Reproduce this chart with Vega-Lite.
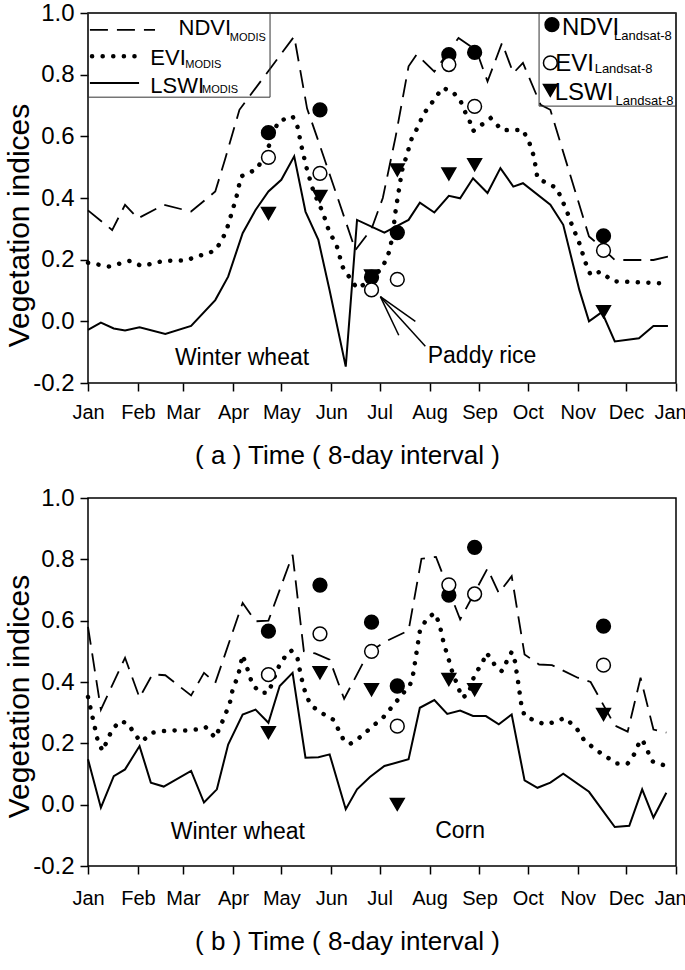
{
  "$schema": "https://vega.github.io/schema/vega-lite/v6.json",
  "background": "white",
  "padding": {"left": 3, "top": 0, "right": 0, "bottom": 0},
  "bounds": "flush",
  "spacing": 115,
  "config": {
    "font": "Liberation Sans",
    "view": {"stroke": "#000", "strokeWidth": 1.5},
    "axis": {"grid": false, "domain": false, "tickColor": "#000", "tickWidth": 1.5, "tickSize": 8, "labelColor": "#000", "titleColor": "#000", "titleFontWeight": "normal"},
    "axisX": {"labelFontSize": 20, "titleFontSize": 26, "titlePadding": 20, "titleX": 259, "labelFlush": false, "labelOverlap": false},
    "axisY": {"labelFontSize": 24, "labelPadding": 6, "titleFontSize": 30, "titleX": -54}
  },
  "datasets": {
    "bandA": [{"doy": 162, "doy2": 278}],
    "bandB": [{"doy": 167, "doy2": 272.5}],
    "modisA": [
      {"index": "NDVI", "doy": 1, "v": 0.36}, {"index": "NDVI", "doy": 16, "v": 0.296}, {"index": "NDVI", "doy": 24, "v": 0.378}, {"index": "NDVI", "doy": 32, "v": 0.334}, {"index": "NDVI", "doy": 48, "v": 0.378}, {"index": "NDVI", "doy": 65, "v": 0.356}, {"index": "NDVI", "doy": 80, "v": 0.421}, {"index": "NDVI", "doy": 86, "v": 0.524}, {"index": "NDVI", "doy": 95, "v": 0.686}, {"index": "NDVI", "doy": 129, "v": 0.924}, {"index": "NDVI", "doy": 137, "v": 0.69}, {"index": "NDVI", "doy": 143, "v": 0.6}, {"index": "NDVI", "doy": 167, "v": 0.231}, {"index": "NDVI", "doy": 177, "v": 0.3}, {"index": "NDVI", "doy": 184, "v": 0.4}, {"index": "NDVI", "doy": 192, "v": 0.6}, {"index": "NDVI", "doy": 200, "v": 0.827}, {"index": "NDVI", "doy": 205, "v": 0.865}, {"index": "NDVI", "doy": 216, "v": 0.81}, {"index": "NDVI", "doy": 231, "v": 0.919}, {"index": "NDVI", "doy": 242, "v": 0.88}, {"index": "NDVI", "doy": 249, "v": 0.778}, {"index": "NDVI", "doy": 258, "v": 0.903}, {"index": "NDVI", "doy": 265, "v": 0.805}, {"index": "NDVI", "doy": 271, "v": 0.838}, {"index": "NDVI", "doy": 282, "v": 0.702}, {"index": "NDVI", "doy": 288, "v": 0.686}, {"index": "NDVI", "doy": 312, "v": 0.275}, {"index": "NDVI", "doy": 317, "v": 0.253}, {"index": "NDVI", "doy": 328, "v": 0.199}, {"index": "NDVI", "doy": 352, "v": 0.199}, {"index": "NDVI", "doy": 361, "v": 0.21},
      {"index": "EVI", "doy": 1, "v": 0.19}, {"index": "EVI", "doy": 14, "v": 0.178}, {"index": "EVI", "doy": 27, "v": 0.196}, {"index": "EVI", "doy": 34, "v": 0.18}, {"index": "EVI", "doy": 41, "v": 0.187}, {"index": "EVI", "doy": 47, "v": 0.195}, {"index": "EVI", "doy": 54, "v": 0.197}, {"index": "EVI", "doy": 62, "v": 0.197}, {"index": "EVI", "doy": 68, "v": 0.21}, {"index": "EVI", "doy": 74, "v": 0.218}, {"index": "EVI", "doy": 80, "v": 0.23}, {"index": "EVI", "doy": 84, "v": 0.262}, {"index": "EVI", "doy": 87, "v": 0.296}, {"index": "EVI", "doy": 93, "v": 0.4}, {"index": "EVI", "doy": 96, "v": 0.47}, {"index": "EVI", "doy": 106, "v": 0.494}, {"index": "EVI", "doy": 113, "v": 0.565}, {"index": "EVI", "doy": 119, "v": 0.648}, {"index": "EVI", "doy": 128, "v": 0.665}, {"index": "EVI", "doy": 131, "v": 0.632}, {"index": "EVI", "doy": 134, "v": 0.556}, {"index": "EVI", "doy": 137, "v": 0.491}, {"index": "EVI", "doy": 141, "v": 0.421}, {"index": "EVI", "doy": 147, "v": 0.35}, {"index": "EVI", "doy": 151, "v": 0.286}, {"index": "EVI", "doy": 155, "v": 0.253}, {"index": "EVI", "doy": 159, "v": 0.177}, {"index": "EVI", "doy": 163, "v": 0.145}, {"index": "EVI", "doy": 168, "v": 0.107}, {"index": "EVI", "doy": 176, "v": 0.13}, {"index": "EVI", "doy": 184, "v": 0.177}, {"index": "EVI", "doy": 188, "v": 0.226}, {"index": "EVI", "doy": 190, "v": 0.275}, {"index": "EVI", "doy": 192, "v": 0.361}, {"index": "EVI", "doy": 196, "v": 0.491}, {"index": "EVI", "doy": 198, "v": 0.524}, {"index": "EVI", "doy": 202, "v": 0.594}, {"index": "EVI", "doy": 206, "v": 0.632}, {"index": "EVI", "doy": 209, "v": 0.67}, {"index": "EVI", "doy": 215, "v": 0.713}, {"index": "EVI", "doy": 221, "v": 0.757}, {"index": "EVI", "doy": 227, "v": 0.746}, {"index": "EVI", "doy": 232, "v": 0.718}, {"index": "EVI", "doy": 235, "v": 0.68}, {"index": "EVI", "doy": 238, "v": 0.648}, {"index": "EVI", "doy": 240, "v": 0.617}, {"index": "EVI", "doy": 251, "v": 0.659}, {"index": "EVI", "doy": 258, "v": 0.62}, {"index": "EVI", "doy": 271, "v": 0.621}, {"index": "EVI", "doy": 276, "v": 0.567}, {"index": "EVI", "doy": 278, "v": 0.529}, {"index": "EVI", "doy": 280, "v": 0.464}, {"index": "EVI", "doy": 292, "v": 0.432}, {"index": "EVI", "doy": 298, "v": 0.361}, {"index": "EVI", "doy": 301, "v": 0.318}, {"index": "EVI", "doy": 306, "v": 0.253}, {"index": "EVI", "doy": 310, "v": 0.188}, {"index": "EVI", "doy": 313, "v": 0.15}, {"index": "EVI", "doy": 319, "v": 0.161}, {"index": "EVI", "doy": 327, "v": 0.13}, {"index": "EVI", "doy": 358, "v": 0.123},
      {"index": "LSWI", "doy": 1, "v": -0.028}, {"index": "LSWI", "doy": 9, "v": -0.004}, {"index": "LSWI", "doy": 17, "v": -0.023}, {"index": "LSWI", "doy": 24, "v": -0.03}, {"index": "LSWI", "doy": 33, "v": -0.019}, {"index": "LSWI", "doy": 49, "v": -0.041}, {"index": "LSWI", "doy": 65, "v": -0.015}, {"index": "LSWI", "doy": 80, "v": 0.069}, {"index": "LSWI", "doy": 88, "v": 0.145}, {"index": "LSWI", "doy": 97, "v": 0.286}, {"index": "LSWI", "doy": 105, "v": 0.361}, {"index": "LSWI", "doy": 113, "v": 0.421}, {"index": "LSWI", "doy": 121, "v": 0.459}, {"index": "LSWI", "doy": 129, "v": 0.535}, {"index": "LSWI", "doy": 136, "v": 0.356}, {"index": "LSWI", "doy": 144, "v": 0.264}, {"index": "LSWI", "doy": 151, "v": 0.1}, {"index": "LSWI", "doy": 161, "v": -0.147}, {"index": "LSWI", "doy": 168, "v": 0.329}, {"index": "LSWI", "doy": 185, "v": 0.288}, {"index": "LSWI", "doy": 192, "v": 0.307}, {"index": "LSWI", "doy": 200, "v": 0.329}, {"index": "LSWI", "doy": 207, "v": 0.385}, {"index": "LSWI", "doy": 216, "v": 0.353}, {"index": "LSWI", "doy": 225, "v": 0.407}, {"index": "LSWI", "doy": 232, "v": 0.399}, {"index": "LSWI", "doy": 240, "v": 0.464}, {"index": "LSWI", "doy": 249, "v": 0.416}, {"index": "LSWI", "doy": 257, "v": 0.497}, {"index": "LSWI", "doy": 265, "v": 0.437}, {"index": "LSWI", "doy": 271, "v": 0.448}, {"index": "LSWI", "doy": 288, "v": 0.378}, {"index": "LSWI", "doy": 296, "v": 0.313}, {"index": "LSWI", "doy": 306, "v": 0.102}, {"index": "LSWI", "doy": 312, "v": 0.0}, {"index": "LSWI", "doy": 320, "v": 0.03}, {"index": "LSWI", "doy": 328, "v": -0.065}, {"index": "LSWI", "doy": 343, "v": -0.055}, {"index": "LSWI", "doy": 352, "v": -0.015}, {"index": "LSWI", "doy": 361, "v": -0.015}
    ],
    "landsatA": [
      {"index": "NDVI", "doy": 113, "v": 0.612}, {"index": "NDVI", "doy": 145, "v": 0.686}, {"index": "NDVI", "doy": 177, "v": 0.143}, {"index": "NDVI", "doy": 193, "v": 0.288}, {"index": "NDVI", "doy": 225, "v": 0.865}, {"index": "NDVI", "doy": 241, "v": 0.872}, {"index": "NDVI", "doy": 321, "v": 0.277},
      {"index": "EVI", "doy": 113, "v": 0.532}, {"index": "EVI", "doy": 145, "v": 0.48}, {"index": "EVI", "doy": 177, "v": 0.102}, {"index": "EVI", "doy": 193, "v": 0.136}, {"index": "EVI", "doy": 225, "v": 0.833}, {"index": "EVI", "doy": 241, "v": 0.697}, {"index": "EVI", "doy": 321, "v": 0.23},
      {"index": "LSWI", "doy": 113, "v": 0.35}, {"index": "LSWI", "doy": 145, "v": 0.405}, {"index": "LSWI", "doy": 177, "v": 0.147}, {"index": "LSWI", "doy": 193, "v": 0.491}, {"index": "LSWI", "doy": 225, "v": 0.478}, {"index": "LSWI", "doy": 241, "v": 0.508}, {"index": "LSWI", "doy": 321, "v": 0.031}
    ],
    "modisB": [
      {"index": "NDVI", "doy": 1, "v": 0.58}, {"index": "NDVI", "doy": 9, "v": 0.31}, {"index": "NDVI", "doy": 24, "v": 0.479}, {"index": "NDVI", "doy": 33, "v": 0.349}, {"index": "NDVI", "doy": 41, "v": 0.425}, {"index": "NDVI", "doy": 49, "v": 0.422}, {"index": "NDVI", "doy": 65, "v": 0.356}, {"index": "NDVI", "doy": 73, "v": 0.43}, {"index": "NDVI", "doy": 80, "v": 0.397}, {"index": "NDVI", "doy": 97, "v": 0.658}, {"index": "NDVI", "doy": 105, "v": 0.598}, {"index": "NDVI", "doy": 113, "v": 0.6}, {"index": "NDVI", "doy": 128, "v": 0.815}, {"index": "NDVI", "doy": 135, "v": 0.5}, {"index": "NDVI", "doy": 142, "v": 0.493}, {"index": "NDVI", "doy": 151, "v": 0.473}, {"index": "NDVI", "doy": 160, "v": 0.345}, {"index": "NDVI", "doy": 168, "v": 0.425}, {"index": "NDVI", "doy": 175, "v": 0.495}, {"index": "NDVI", "doy": 186, "v": 0.533}, {"index": "NDVI", "doy": 200, "v": 0.568}, {"index": "NDVI", "doy": 208, "v": 0.802}, {"index": "NDVI", "doy": 217, "v": 0.808}, {"index": "NDVI", "doy": 232, "v": 0.604}, {"index": "NDVI", "doy": 249, "v": 0.77}, {"index": "NDVI", "doy": 256, "v": 0.69}, {"index": "NDVI", "doy": 264, "v": 0.745}, {"index": "NDVI", "doy": 272, "v": 0.49}, {"index": "NDVI", "doy": 281, "v": 0.457}, {"index": "NDVI", "doy": 289, "v": 0.455}, {"index": "NDVI", "doy": 305, "v": 0.414}, {"index": "NDVI", "doy": 313, "v": 0.4}, {"index": "NDVI", "doy": 328, "v": 0.258}, {"index": "NDVI", "doy": 336, "v": 0.238}, {"index": "NDVI", "doy": 344, "v": 0.414}, {"index": "NDVI", "doy": 352, "v": 0.245}, {"index": "NDVI", "doy": 360, "v": 0.235},
      {"index": "EVI", "doy": 1, "v": 0.351}, {"index": "EVI", "doy": 4, "v": 0.281}, {"index": "EVI", "doy": 7, "v": 0.21}, {"index": "EVI", "doy": 10, "v": 0.175}, {"index": "EVI", "doy": 13, "v": 0.21}, {"index": "EVI", "doy": 16, "v": 0.245}, {"index": "EVI", "doy": 21, "v": 0.273}, {"index": "EVI", "doy": 26, "v": 0.264}, {"index": "EVI", "doy": 30, "v": 0.229}, {"index": "EVI", "doy": 34, "v": 0.205}, {"index": "EVI", "doy": 41, "v": 0.235}, {"index": "EVI", "doy": 48, "v": 0.24}, {"index": "EVI", "doy": 55, "v": 0.242}, {"index": "EVI", "doy": 62, "v": 0.242}, {"index": "EVI", "doy": 68, "v": 0.245}, {"index": "EVI", "doy": 74, "v": 0.253}, {"index": "EVI", "doy": 80, "v": 0.218}, {"index": "EVI", "doy": 85, "v": 0.278}, {"index": "EVI", "doy": 89, "v": 0.33}, {"index": "EVI", "doy": 91, "v": 0.381}, {"index": "EVI", "doy": 94, "v": 0.416}, {"index": "EVI", "doy": 97, "v": 0.488}, {"index": "EVI", "doy": 101, "v": 0.427}, {"index": "EVI", "doy": 103, "v": 0.392}, {"index": "EVI", "doy": 108, "v": 0.365}, {"index": "EVI", "doy": 113, "v": 0.365}, {"index": "EVI", "doy": 118, "v": 0.433}, {"index": "EVI", "doy": 121, "v": 0.468}, {"index": "EVI", "doy": 127, "v": 0.503}, {"index": "EVI", "doy": 131, "v": 0.479}, {"index": "EVI", "doy": 133, "v": 0.424}, {"index": "EVI", "doy": 135, "v": 0.381}, {"index": "EVI", "doy": 137, "v": 0.349}, {"index": "EVI", "doy": 140, "v": 0.321}, {"index": "EVI", "doy": 147, "v": 0.296}, {"index": "EVI", "doy": 153, "v": 0.278}, {"index": "EVI", "doy": 157, "v": 0.24}, {"index": "EVI", "doy": 160, "v": 0.207}, {"index": "EVI", "doy": 164, "v": 0.199}, {"index": "EVI", "doy": 171, "v": 0.224}, {"index": "EVI", "doy": 177, "v": 0.253}, {"index": "EVI", "doy": 184, "v": 0.283}, {"index": "EVI", "doy": 190, "v": 0.321}, {"index": "EVI", "doy": 196, "v": 0.359}, {"index": "EVI", "doy": 201, "v": 0.392}, {"index": "EVI", "doy": 203, "v": 0.43}, {"index": "EVI", "doy": 206, "v": 0.533}, {"index": "EVI", "doy": 207, "v": 0.566}, {"index": "EVI", "doy": 211, "v": 0.604}, {"index": "EVI", "doy": 216, "v": 0.625}, {"index": "EVI", "doy": 219, "v": 0.593}, {"index": "EVI", "doy": 222, "v": 0.522}, {"index": "EVI", "doy": 224, "v": 0.49}, {"index": "EVI", "doy": 227, "v": 0.435}, {"index": "EVI", "doy": 231, "v": 0.381}, {"index": "EVI", "doy": 233, "v": 0.349}, {"index": "EVI", "doy": 237, "v": 0.359}, {"index": "EVI", "doy": 241, "v": 0.424}, {"index": "EVI", "doy": 246, "v": 0.463}, {"index": "EVI", "doy": 248, "v": 0.495}, {"index": "EVI", "doy": 251, "v": 0.479}, {"index": "EVI", "doy": 254, "v": 0.45}, {"index": "EVI", "doy": 258, "v": 0.435}, {"index": "EVI", "doy": 261, "v": 0.468}, {"index": "EVI", "doy": 264, "v": 0.498}, {"index": "EVI", "doy": 266, "v": 0.468}, {"index": "EVI", "doy": 268, "v": 0.4}, {"index": "EVI", "doy": 270, "v": 0.326}, {"index": "EVI", "doy": 272, "v": 0.289}, {"index": "EVI", "doy": 280, "v": 0.27}, {"index": "EVI", "doy": 285, "v": 0.262}, {"index": "EVI", "doy": 291, "v": 0.27}, {"index": "EVI", "doy": 297, "v": 0.283}, {"index": "EVI", "doy": 304, "v": 0.251}, {"index": "EVI", "doy": 309, "v": 0.21}, {"index": "EVI", "doy": 316, "v": 0.18}, {"index": "EVI", "doy": 322, "v": 0.159}, {"index": "EVI", "doy": 329, "v": 0.134}, {"index": "EVI", "doy": 336, "v": 0.134}, {"index": "EVI", "doy": 340, "v": 0.164}, {"index": "EVI", "doy": 343, "v": 0.2}, {"index": "EVI", "doy": 345, "v": 0.213}, {"index": "EVI", "doy": 348, "v": 0.18}, {"index": "EVI", "doy": 351, "v": 0.142}, {"index": "EVI", "doy": 357, "v": 0.131}, {"index": "EVI", "doy": 361, "v": 0.125},
      {"index": "LSWI", "doy": 1, "v": 0.148}, {"index": "LSWI", "doy": 9, "v": -0.01}, {"index": "LSWI", "doy": 17, "v": 0.093}, {"index": "LSWI", "doy": 24, "v": 0.115}, {"index": "LSWI", "doy": 33, "v": 0.191}, {"index": "LSWI", "doy": 40, "v": 0.072}, {"index": "LSWI", "doy": 48, "v": 0.059}, {"index": "LSWI", "doy": 65, "v": 0.11}, {"index": "LSWI", "doy": 73, "v": 0.007}, {"index": "LSWI", "doy": 81, "v": 0.05}, {"index": "LSWI", "doy": 88, "v": 0.196}, {"index": "LSWI", "doy": 97, "v": 0.294}, {"index": "LSWI", "doy": 105, "v": 0.31}, {"index": "LSWI", "doy": 113, "v": 0.267}, {"index": "LSWI", "doy": 120, "v": 0.387}, {"index": "LSWI", "doy": 128, "v": 0.43}, {"index": "LSWI", "doy": 136, "v": 0.153}, {"index": "LSWI", "doy": 144, "v": 0.155}, {"index": "LSWI", "doy": 151, "v": 0.164}, {"index": "LSWI", "doy": 161, "v": -0.015}, {"index": "LSWI", "doy": 168, "v": 0.05}, {"index": "LSWI", "doy": 176, "v": 0.09}, {"index": "LSWI", "doy": 185, "v": 0.126}, {"index": "LSWI", "doy": 200, "v": 0.148}, {"index": "LSWI", "doy": 207, "v": 0.316}, {"index": "LSWI", "doy": 216, "v": 0.341}, {"index": "LSWI", "doy": 224, "v": 0.296}, {"index": "LSWI", "doy": 232, "v": 0.307}, {"index": "LSWI", "doy": 240, "v": 0.289}, {"index": "LSWI", "doy": 248, "v": 0.289}, {"index": "LSWI", "doy": 256, "v": 0.262}, {"index": "LSWI", "doy": 264, "v": 0.294}, {"index": "LSWI", "doy": 272, "v": 0.079}, {"index": "LSWI", "doy": 280, "v": 0.055}, {"index": "LSWI", "doy": 288, "v": 0.072}, {"index": "LSWI", "doy": 296, "v": 0.101}, {"index": "LSWI", "doy": 312, "v": 0.042}, {"index": "LSWI", "doy": 328, "v": -0.073}, {"index": "LSWI", "doy": 337, "v": -0.069}, {"index": "LSWI", "doy": 345, "v": 0.05}, {"index": "LSWI", "doy": 352, "v": -0.042}, {"index": "LSWI", "doy": 360, "v": 0.039}
    ],
    "landsatB": [
      {"index": "NDVI", "doy": 113, "v": 0.566}, {"index": "NDVI", "doy": 145, "v": 0.716}, {"index": "NDVI", "doy": 177, "v": 0.595}, {"index": "NDVI", "doy": 193, "v": 0.387}, {"index": "NDVI", "doy": 225, "v": 0.683}, {"index": "NDVI", "doy": 241, "v": 0.839}, {"index": "NDVI", "doy": 321, "v": 0.582},
      {"index": "EVI", "doy": 113, "v": 0.424}, {"index": "EVI", "doy": 145, "v": 0.557}, {"index": "EVI", "doy": 177, "v": 0.5}, {"index": "EVI", "doy": 193, "v": 0.256}, {"index": "EVI", "doy": 225, "v": 0.717}, {"index": "EVI", "doy": 241, "v": 0.687}, {"index": "EVI", "doy": 321, "v": 0.455},
      {"index": "LSWI", "doy": 113, "v": 0.235}, {"index": "LSWI", "doy": 145, "v": 0.43}, {"index": "LSWI", "doy": 177, "v": 0.375}, {"index": "LSWI", "doy": 193, "v": 0.001}, {"index": "LSWI", "doy": 225, "v": 0.408}, {"index": "LSWI", "doy": 241, "v": 0.375}, {"index": "LSWI", "doy": 321, "v": 0.294}
    ],
    "annotA": [{"doy": 96.6, "v": -0.12, "label": "Winter wheat"}, {"doy": 245.6, "v": -0.114, "label": "Paddy rice"}],
    "annotB": [{"doy": 94, "v": -0.088, "label": "Winter wheat"}, {"doy": 232, "v": -0.085, "label": "Corn"}],
    "arrowA": [{"doy": 182.5, "v": 0.08, "doy2": 204.2, "v2": 0.0}, {"doy": 182.5, "v": 0.08, "doy2": 193.9, "v2": -0.045}, {"doy": 182.5, "v": 0.08, "doy2": 210.4, "v2": -0.081}],
    "legBoxA": [{"doy": 1, "doy2": 114, "v": 1.0, "v2": 0.727}, {"doy": 281, "doy2": 366, "v": 1.0, "v2": 0.698}],
    "legLineA": [{"index": "NDVI", "doy": 2.2, "doy2": 42.6, "v": 0.945}, {"index": "EVI", "doy": 3.5, "doy2": 31.4, "v": 0.86}, {"index": "LSWI", "doy": 2.2, "doy2": 32.7, "v": 0.773}],
    "legLeftMain": [{"doy": 57.2, "v": 0.929, "label": "NDVI"}, {"doy": 39.7, "v": 0.832, "label": "EVI"}, {"doy": 39.7, "v": 0.742, "label": "LSWI"}],
    "legLeftSub": [{"doy": 89, "v": 0.908, "label": "MODIS"}, {"doy": 61.4, "v": 0.821, "label": "MODIS"}, {"doy": 71.8, "v": 0.739, "label": "MODIS"}],
    "legRightMain": [{"doy": 295.2, "v": 0.93, "label": "NDVI"}, {"doy": 291, "v": 0.811, "label": "EVI"}, {"doy": 290.7, "v": 0.719, "label": "LSWI"}],
    "legRightSub": [{"doy": 327.5, "v": 0.911, "label": "Landsat-8"}, {"doy": 315.5, "v": 0.805, "label": "Landsat-8"}, {"doy": 328.5, "v": 0.702, "label": "Landsat-8"}],
    "legRightMark": [{"index": "NDVI", "doy": 289, "v": 0.962}, {"index": "EVI", "doy": 288, "v": 0.838}, {"index": "LSWI", "doy": 288, "v": 0.749}]
  },
  "vconcat": [
    {
      "width": 588,
      "height": 370,
      "encoding": {
        "x": {"field": "doy", "type": "quantitative", "scale": {"domain": [1, 366], "nice": false, "zero": false},
          "axis": {"values": [1, 32, 60, 91, 121, 152, 182, 213, 244, 274, 305, 335, 366], "labelExpr": "['Jan','Feb','Mar','Apr','May','Jun','Jul','Aug','Sep','Oct','Nov','Dec','Jan'][indexof([1,32,60,91,121,152,182,213,244,274,305,335,366], datum.value)]", "labelOffset": {"condition": {"test": "datum.value === 366", "value": -6}, "value": 0}, "labelPadding": 11, "title": "( a ) Time ( 8-day interval )"}},
        "y": {"field": "v", "type": "quantitative", "scale": {"domain": [-0.2, 1.0], "nice": false, "zero": false},
          "axis": {"values": [-0.2, 0, 0.2, 0.4, 0.6, 0.8, 1.0], "labelExpr": "replace(format(datum.value, '.1f'), '\u2212', '-')", "title": "Vegetation indices", "titleY": 212}}
      },
      "layer": [
        {"data": {"name": "bandA"}, "mark": {"type": "rect", "color": "#f5f5f5"}, "encoding": {"x2": {"field": "doy2"}, "y": {"datum": 1.0}, "y2": {"datum": -0.2}}},
        {"data": {"name": "modisA"}, "transform": [{"filter": "datum.index === 'LSWI'"}], "mark": {"type": "line", "color": "#000", "strokeWidth": 2}, "encoding": {}},
        {"data": {"name": "modisA"}, "transform": [{"filter": "datum.index === 'EVI'"}], "mark": {"type": "line", "color": "#000", "strokeWidth": 4.5, "strokeCap": "round", "strokeDash": [0.1, 10.5]}, "encoding": {}},
        {"data": {"name": "modisA"}, "transform": [{"filter": "datum.index === 'NDVI'"}], "mark": {"type": "line", "color": "#000", "strokeWidth": 1.8, "strokeDash": [18, 9]}, "encoding": {}},
        {"data": {"name": "legBoxA"}, "mark": {"type": "rect", "fillOpacity": 0, "stroke": "#333", "strokeWidth": 1}, "encoding": {"x2": {"field": "doy2"}, "y2": {"field": "v2"}}},
        {"data": {"name": "legLineA"}, "transform": [{"filter": "datum.index === 'NDVI'"}], "mark": {"type": "rule", "color": "#000", "strokeWidth": 1.8, "strokeDash": [18, 9]}, "encoding": {"x2": {"field": "doy2"}}},
        {"data": {"name": "legLineA"}, "transform": [{"filter": "datum.index === 'EVI'"}], "mark": {"type": "rule", "color": "#000", "strokeWidth": 4.5, "strokeCap": "round", "strokeDash": [0.1, 10.5]}, "encoding": {"x2": {"field": "doy2"}}},
        {"data": {"name": "legLineA"}, "transform": [{"filter": "datum.index === 'LSWI'"}], "mark": {"type": "rule", "color": "#000", "strokeWidth": 2}, "encoding": {"x2": {"field": "doy2"}}},
        {"data": {"name": "legLeftMain"}, "mark": {"type": "text", "fontSize": 22, "align": "left", "baseline": "alphabetic", "color": "#000"}, "encoding": {"text": {"field": "label"}}},
        {"data": {"name": "legLeftSub"}, "mark": {"type": "text", "fontSize": 11, "align": "left", "baseline": "alphabetic", "color": "#000"}, "encoding": {"text": {"field": "label"}}},
        {"data": {"name": "legRightMain"}, "mark": {"type": "text", "fontSize": 24, "align": "left", "baseline": "alphabetic", "color": "#000"}, "encoding": {"text": {"field": "label"}}},
        {"data": {"name": "legRightSub"}, "mark": {"type": "text", "fontSize": 13, "align": "left", "baseline": "alphabetic", "color": "#000"}, "encoding": {"text": {"field": "label"}}},
        {"data": {"name": "annotA"}, "mark": {"type": "text", "fontSize": 23, "align": "center", "baseline": "middle", "color": "#000"}, "encoding": {"text": {"field": "label"}}},
        {"data": {"name": "arrowA"}, "mark": {"type": "rule", "color": "#000", "strokeWidth": 1.5}, "encoding": {"x2": {"field": "doy2"}, "y2": {"field": "v2"}}},
        {"data": {"name": "landsatA"}, "mark": {"type": "point", "filled": true, "size": 190, "opacity": 1, "stroke": "#000", "strokeWidth": 1.5},
          "encoding": {
            "shape": {"field": "index", "type": "nominal", "scale": {"domain": ["NDVI", "EVI", "LSWI"], "range": ["circle", "circle", "triangle-down"]}, "legend": null},
            "fill": {"field": "index", "type": "nominal", "scale": {"domain": ["NDVI", "EVI", "LSWI"], "range": ["#000", "#fff", "#000"]}, "legend": null}
          }},
        {"data": {"name": "legRightMark"}, "mark": {"type": "point", "filled": true, "size": 190, "opacity": 1, "stroke": "#000", "strokeWidth": 1.5},
          "encoding": {
            "shape": {"field": "index", "type": "nominal", "scale": {"domain": ["NDVI", "EVI", "LSWI"], "range": ["circle", "circle", "triangle-down"]}, "legend": null},
            "fill": {"field": "index", "type": "nominal", "scale": {"domain": ["NDVI", "EVI", "LSWI"], "range": ["#000", "#fff", "#000"]}, "legend": null}
          }}
      ]
    },
    {
      "width": 588,
      "height": 368,
      "encoding": {
        "x": {"field": "doy", "type": "quantitative", "scale": {"domain": [1, 366], "nice": false, "zero": false},
          "axis": {"values": [1, 32, 60, 91, 121, 152, 182, 213, 244, 274, 305, 335, 366], "labelExpr": "['Jan','Feb','Mar','Apr','May','Jun','Jul','Aug','Sep','Oct','Nov','Dec','Jan'][indexof([1,32,60,91,121,152,182,213,244,274,305,335,366], datum.value)]", "labelOffset": {"condition": {"test": "datum.value === 366", "value": -6}, "value": 0}, "labelPadding": 14, "title": "( b ) Time ( 8-day interval )"}},
        "y": {"field": "v", "type": "quantitative", "scale": {"domain": [-0.2, 1.0], "nice": false, "zero": false},
          "axis": {"values": [-0.2, 0, 0.2, 0.4, 0.6, 0.8, 1.0], "labelExpr": "replace(format(datum.value, '.1f'), '\u2212', '-')", "title": "Vegetation indices", "titleY": 198}}
      },
      "layer": [
        {"data": {"name": "bandB"}, "mark": {"type": "rect", "color": "#f7f7f7"}, "encoding": {"x2": {"field": "doy2"}, "y": {"datum": 1.0}, "y2": {"datum": -0.2}}},
        {"data": {"name": "modisB"}, "transform": [{"filter": "datum.index === 'LSWI'"}], "mark": {"type": "line", "color": "#000", "strokeWidth": 2}, "encoding": {}},
        {"data": {"name": "modisB"}, "transform": [{"filter": "datum.index === 'EVI'"}], "mark": {"type": "line", "color": "#000", "strokeWidth": 4.5, "strokeCap": "round", "strokeDash": [0.1, 10.5]}, "encoding": {}},
        {"data": {"name": "modisB"}, "transform": [{"filter": "datum.index === 'NDVI'"}], "mark": {"type": "line", "color": "#000", "strokeWidth": 1.8, "strokeDash": [18, 9]}, "encoding": {}},
        {"data": {"name": "annotB"}, "mark": {"type": "text", "fontSize": 23, "align": "center", "baseline": "middle", "color": "#000"}, "encoding": {"text": {"field": "label"}}},
        {"data": {"name": "landsatB"}, "mark": {"type": "point", "filled": true, "size": 190, "opacity": 1, "stroke": "#000", "strokeWidth": 1.5},
          "encoding": {
            "shape": {"field": "index", "type": "nominal", "scale": {"domain": ["NDVI", "EVI", "LSWI"], "range": ["circle", "circle", "triangle-down"]}, "legend": null},
            "fill": {"field": "index", "type": "nominal", "scale": {"domain": ["NDVI", "EVI", "LSWI"], "range": ["#000", "#fff", "#000"]}, "legend": null}
          }}
      ]
    }
  ]
}
